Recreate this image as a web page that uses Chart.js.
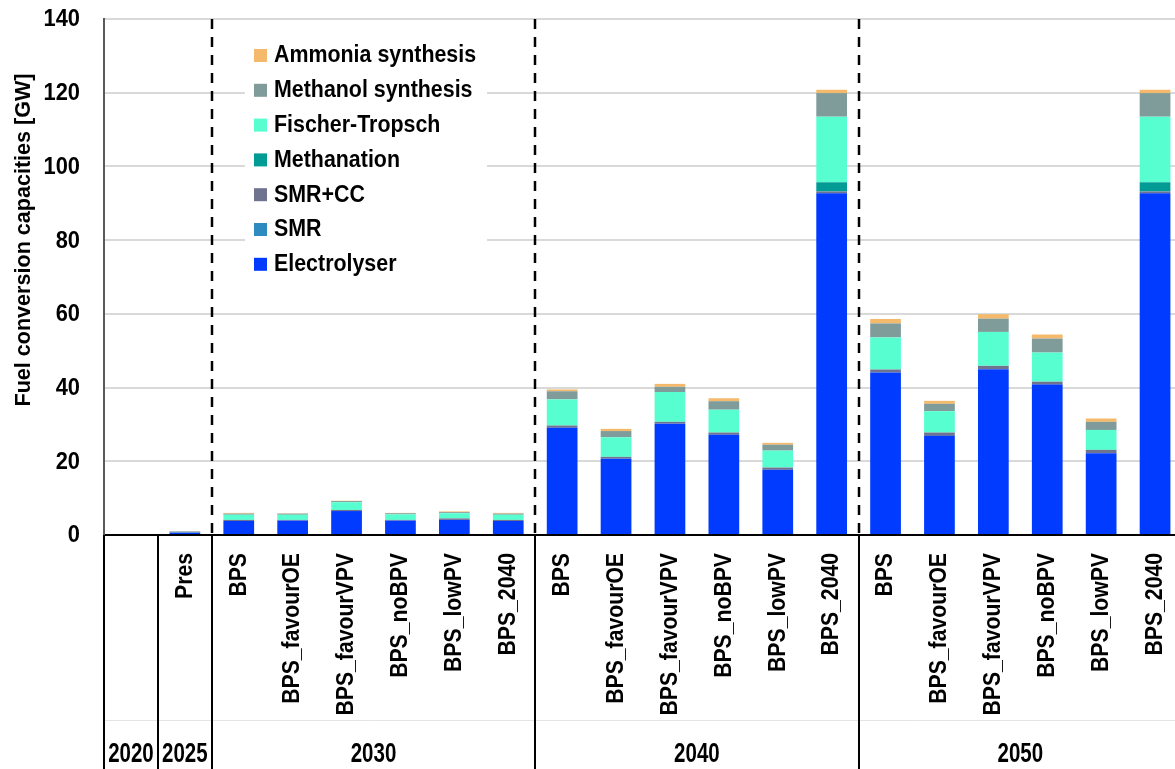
<!DOCTYPE html>
<html>
<head>
<meta charset="utf-8">
<script src="https://cdn.jsdelivr.net/npm/chart.js@4.4.1/dist/chart.umd.min.js"></script>
<style>
html, body { margin: 0; padding: 0; background: #fff; overflow: hidden; }
#wrap { width: 1182px; height: 769px; }
</style>
</head>
<body>
<div id="wrap"><canvas id="fuelChart" width="1182" height="769"></canvas></div>
<script>
// --- data ---
const scenarios = ['', 'Pres',
    'BPS', 'BPS_favourOE', 'BPS_favourVPV', 'BPS_noBPV', 'BPS_lowPV', 'BPS_2040',
    'BPS', 'BPS_favourOE', 'BPS_favourVPV', 'BPS_noBPV', 'BPS_lowPV', 'BPS_2040',
    'BPS', 'BPS_favourOE', 'BPS_favourVPV', 'BPS_noBPV', 'BPS_lowPV', 'BPS_2040'];
const yearLabels = ['2020', '2025', '2030', '2040', '2050'];
const yearSpans = [1, 1, 6, 6, 6];
const yTicks = [0, 20, 40, 60, 80, 100, 120, 140];

const electrolyser = [0, 0.6, 3.8, 3.9, 6.5, 3.9, 4.1, 3.8, 29.1, 20.7, 30.2, 27.2, 17.7, 92.7, 44.1, 26.9, 45.0, 40.8, 22.2, 92.7];
const smr          = [0, 0.1, 0, 0, 0, 0, 0, 0, 0, 0, 0, 0, 0, 0, 0, 0, 0, 0, 0, 0];
const smrCC        = [0, 0.2, 0.3, 0.2, 0.3, 0.2, 0.4, 0.3, 0.6, 0.5, 0.5, 0.6, 0.6, 0.5, 0.8, 0.9, 0.9, 0.8, 0.9, 0.5];
const methanation  = [0, 0, 0, 0, 0, 0, 0, 0, 0, 0, 0, 0, 0, 2.5, 0, 0, 0, 0, 0, 2.5];
const fischer      = [0, 0, 1.4, 1.4, 2.1, 1.5, 1.4, 1.4, 7.1, 5.3, 8.1, 6.2, 4.6, 17.8, 8.7, 5.8, 9.2, 7.9, 5.4, 17.8];
const methanol     = [0, 0.1, 0.3, 0.3, 0.3, 0.3, 0.3, 0.3, 2.2, 1.7, 1.4, 2.3, 1.6, 6.4, 3.8, 2.0, 3.6, 3.8, 2.2, 6.4];
const ammonia      = [0, 0, 0.2, 0.1, 0.1, 0.1, 0.2, 0.2, 0.5, 0.6, 0.8, 0.8, 0.5, 0.9, 1.2, 0.8, 1.2, 1.1, 0.9, 0.9];

const FONT = '"Liberation Sans", Arial, sans-serif';

function ds(label, data, color) {
    return { label: label, data: data, backgroundColor: color, borderWidth: 0 };
}

// bold text squeezed horizontally (narrow look), optionally rotated
function label(ctx, text, x, y, size, sx, align, rot) {
    ctx.save();
    ctx.translate(x, y);
    if (rot) ctx.rotate(rot);
    ctx.scale(sx, 1);
    ctx.font = 'bold ' + size + 'px ' + FONT;
    ctx.fillStyle = '#000';
    ctx.textAlign = align;
    ctx.textBaseline = 'middle';
    ctx.fillText(text, 0, 0);
    ctx.restore();
}

// --- custom pieces: legend box, dashed separators, axis texts, year row ---
const decorations = {
    id: 'decorations',
    afterDatasetsDraw(chart) {
        const ctx = chart.ctx;
        const x = chart.scales.x;
        const area = chart.chartArea;
        const edge = i => (x.getPixelForValue(i - 1) + x.getPixelForValue(i)) / 2;

        // dashed separators between years
        ctx.save();
        ctx.strokeStyle = '#000';
        ctx.lineWidth = 2.5;
        ctx.setLineDash([10, 8]);
        [2, 8, 14].forEach(i => {
            const px = Math.round(edge(i));
            ctx.beginPath();
            ctx.moveTo(px, area.top);
            ctx.lineTo(px, area.bottom);
            ctx.stroke();
        });
        ctx.restore();

        // legend
        ctx.save();
        ctx.fillStyle = '#fff';
        ctx.fillRect(245, 38, 242, 244);
        const sets = chart.data.datasets.slice().reverse();
        sets.forEach((d, k) => {
            const cy = 56 + k * 34.8;
            ctx.fillStyle = d.backgroundColor;
            ctx.fillRect(254, cy - 7, 13, 13);
            label(ctx, d.label, 274, cy, 23, 0.93, 'left');
        });
        ctx.restore();
    },
    afterDraw(chart) {
        const ctx = chart.ctx;
        const x = chart.scales.x;
        const y = chart.scales.y;
        const area = chart.chartArea;
        const step = x.getPixelForValue(1) - x.getPixelForValue(0);
        const H = chart.height;

        // y tick labels
        y.ticks.forEach(t => {
            label(ctx, String(t.value), 80, y.getPixelForValue(t.value) + 1, 23.5, 0.93, 'right');
        });

        // scenario labels, reading upwards, ending under the axis
        chart.data.labels.forEach((s, i) => {
            if (!s) return;
            label(ctx, s, x.getPixelForValue(i), area.bottom + 18, 24.5, 0.865, 'right', -Math.PI / 2);
        });

        ctx.save();
        // faint row divider
        ctx.strokeStyle = '#e4e4e4';
        ctx.lineWidth = 1;
        ctx.beginPath();
        ctx.moveTo(area.left, 720.5);
        ctx.lineTo(area.right, 720.5);
        ctx.stroke();

        // solid group lines and year labels
        ctx.strokeStyle = '#000';
        ctx.lineWidth = 2;
        let start = 0;
        yearSpans.forEach((span, k) => {
            const left = x.getPixelForValue(start) - step / 2;
            const px = Math.round(left);
            ctx.beginPath();
            ctx.moveTo(px, area.bottom);
            ctx.lineTo(px, H);
            ctx.stroke();
            label(ctx, yearLabels[k], left + span * step / 2, 755, 27, 0.76, 'center');
            start += span;
        });
        ctx.restore();

        // y axis title
        label(ctx, 'Fuel conversion capacities [GW]', 24, 240, 22, 0.98, 'center', -Math.PI / 2);
    }
};

new Chart(document.getElementById('fuelChart'), {
    type: 'bar',
    data: {
        labels: scenarios,
        datasets: [
            ds('Electrolyser', electrolyser, '#003BFF'),
            ds('SMR', smr, '#2E8BC0'),
            ds('SMR+CC', smrCC, '#6F7390'),
            ds('Methanation', methanation, '#009B94'),
            ds('Fischer-Tropsch', fischer, '#57FFD0'),
            ds('Methanol synthesis', methanol, '#7F9C9A'),
            ds('Ammonia synthesis', ammonia, '#F4B96A')
        ]
    },
    options: {
        responsive: false,
        animation: false,
        devicePixelRatio: 1,
        layout: { padding: { top: 19, right: 0, bottom: 0, left: 0 } },
        datasets: { bar: { categoryPercentage: 1.0, barPercentage: 0.57 } },
        plugins: {
            legend: { display: false },
            tooltip: { enabled: false }
        },
        scales: {
            x: {
                stacked: true,
                grid: { display: false, drawTicks: false },
                border: { display: true, color: '#000', width: 2 },
                ticks: { display: false, autoSkip: false },
                afterFit: scale => { scale.height = 234; }
            },
            y: {
                stacked: true,
                min: 0,
                max: 140,
                afterBuildTicks: scale => { scale.ticks = yTicks.map(v => ({ value: v })); },
                grid: { color: '#d9d9d9', lineWidth: 2, drawTicks: false },
                border: { display: true, color: '#595959', width: 2 },
                ticks: { display: false },
                afterFit: scale => { scale.width = 104; }
            }
        }
    },
    plugins: [decorations]
});
</script>
</body>
</html>
